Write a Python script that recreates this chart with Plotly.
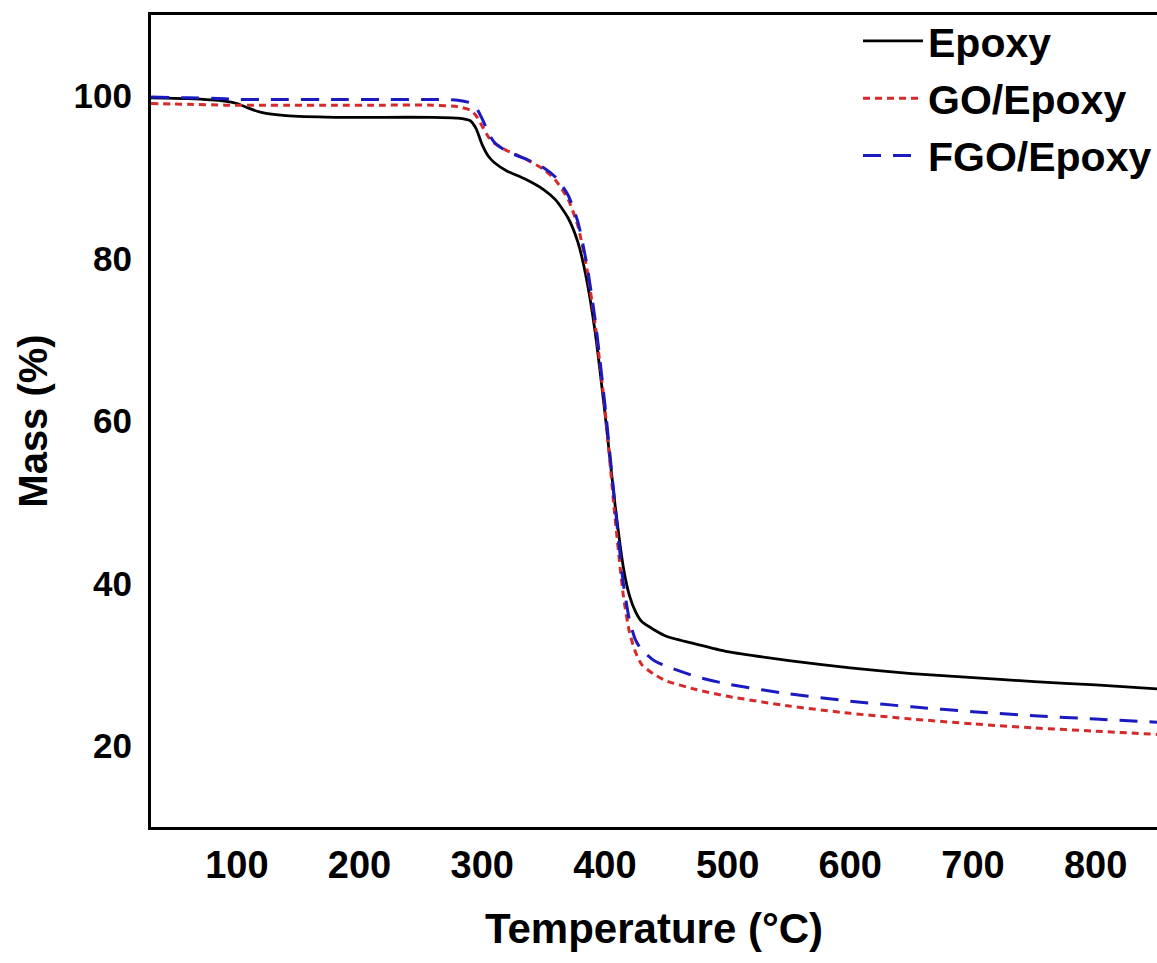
import plotly.graph_objects as go

temperature = [30, 60, 90, 100, 110, 120, 140, 180, 220, 260, 280, 290, 295, 300, 305, 310, 320, 335,
               350, 360, 370, 378, 385, 392, 400, 408, 415, 420, 425, 430, 440, 450, 475, 500,
               550, 600, 650, 700, 750, 800, 850]

epoxy = [99.8, 99.7, 99.4, 99.1, 98.5, 98.0, 97.6, 97.4, 97.4, 97.4, 97.3, 97.0, 96.0, 94.0, 92.6, 91.8,
         90.8, 89.8, 88.5, 87.2, 85.0, 82.0, 77.5, 71.0, 61.0, 50.0, 42.0, 38.5, 36.5, 35.3, 34.3, 33.5,
         32.5, 31.6, 30.5, 29.6, 28.9, 28.4, 27.9, 27.5, 27.0]

go_epoxy = [99.1, 99.0, 98.9, 98.9, 98.9, 98.9, 98.9, 98.9, 98.9, 98.9, 98.7, 98.3, 97.6, 96.3, 95.0, 94.2,
            93.3, 92.3, 91.0, 89.6, 87.3, 84.0, 79.0, 72.0, 61.5, 48.5, 38.5, 34.0, 31.5, 30.0, 28.8, 28.0,
            26.9, 26.1, 24.9, 24.0, 23.3, 22.7, 22.2, 21.8, 21.4]

fgo_epoxy = [99.9, 99.8, 99.7, 99.6, 99.6, 99.6, 99.6, 99.6, 99.6, 99.6, 99.5, 99.2, 98.6, 97.2, 95.5, 94.3,
             93.2, 92.3, 91.2, 90.0, 87.8, 84.5, 79.5, 72.5, 62.0, 50.0, 40.0, 35.5, 33.0, 31.8, 30.5, 29.8,
             28.5, 27.6, 26.4, 25.5, 24.8, 24.2, 23.7, 23.3, 22.9]

x_ticks = [100, 200, 300, 400, 500, 600, 700, 800]
y_ticks = [20, 40, 60, 80, 100]

FONT = "Liberation Sans, Arial, sans-serif"

fig = go.Figure()
fig.add_trace(go.Scatter(x=temperature, y=epoxy, mode="lines", name="Epoxy", legendgroup="a",
                         line=dict(color="black", width=2.8, shape="spline", smoothing=0.6)))
fig.add_trace(go.Scatter(x=temperature, y=go_epoxy, mode="lines", name="GO/Epoxy", legendgroup="b",
                         line=dict(color="#d42a2a", width=3, dash="7px,5px", shape="spline", smoothing=0.6)))
fig.add_trace(go.Scatter(x=temperature, y=fgo_epoxy, mode="lines", name="FGO/Epoxy", legendgroup="c",
                         line=dict(color="#1a1ac0", width=3, dash="18px,12px", shape="spline", smoothing=0.6)))

fig.update_layout(
    width=1157, height=963,
    margin=dict(l=151, r=0, t=15, b=136),
    paper_bgcolor="white", plot_bgcolor="white",
    font=dict(family=FONT, color="black"),
    showlegend=True,
    legend=dict(x=1.0, xanchor="right", y=1.009, yanchor="top",
                font=dict(family=FONT, size=41, weight="bold", color="black"),
                bgcolor="rgba(0,0,0,0)", tracegroupgap=1, itemwidth=60),
    xaxis=dict(range=[30, 850], tickvals=x_ticks, showgrid=False, zeroline=False,
               showline=True, linecolor="black", linewidth=3, mirror=True, ticks="",
               ticklabelstandoff=2,
               tickfont=dict(family=FONT, size=38, weight="bold", color="black"),
               title=dict(text="Temperature (°C)", standoff=30,
                          font=dict(family=FONT, size=42, weight="bold", color="black"))),
    yaxis=dict(range=[10, 110], tickvals=y_ticks, showgrid=False, zeroline=False,
               showline=True, linecolor="black", linewidth=3, mirror=False, ticks="",
               ticklabelstandoff=9,
               tickfont=dict(family=FONT, size=35, weight="bold", color="black"),
               title=dict(text="Mass (%)", standoff=14,
                          font=dict(family=FONT, size=40, weight="bold", color="black"))),
)

fig.write_html("out.html", config={"displayModeBar": False},
               post_script="document.body.style.margin='0';document.body.style.overflow='hidden';")
